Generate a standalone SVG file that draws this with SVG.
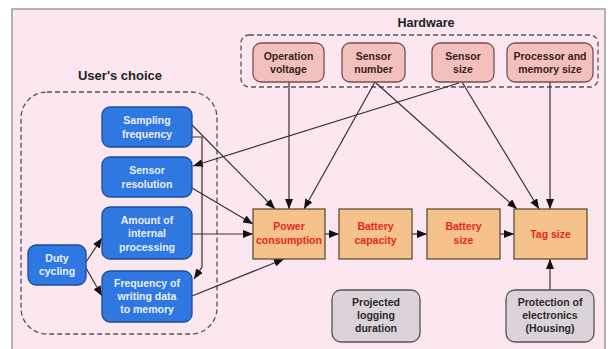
<svg xmlns="http://www.w3.org/2000/svg" width="613" height="349" viewBox="0 0 613 349">
<style>
  text { font-family: "Liberation Sans", Arial, sans-serif; font-weight: bold; text-anchor: middle; }
  .title { font-size: 12.5px; fill: #222; }
  .hw rect { fill: #f3c1bd; stroke: #7a4e4e; stroke-width: 1.3; }
  .hw text { font-size: 10.5px; fill: #3a2222; }
  .uc rect { fill: #2f78e2; stroke: #1b4c9e; stroke-width: 1.3; }
  .uc text { font-size: 10.5px; fill: #e8f0ff; }
  .or rect { fill: #f6c28b; stroke: #5e5138; stroke-width: 1.3; }
  .or text { font-size: 10.5px; fill: #e8261c; }
  .gr rect { fill: #dcd2da; stroke: #555; stroke-width: 1.3; }
  .gr text { font-size: 10.5px; fill: #2a2a2a; }
  .grp { fill: none; stroke: #555; stroke-width: 1.3; stroke-dasharray: 5 3; }
  #connectors path { fill: none; stroke: #333; stroke-width: 1.2; marker-end: url(#arr); }
</style>
<defs>
  <marker id="arr" markerUnits="userSpaceOnUse" markerWidth="10" markerHeight="8" refX="10" refY="4" orient="auto">
    <path d="M0,0 L10,4 L0,8 z" fill="#111"/>
  </marker>
</defs>
<rect x="0" y="0" width="613" height="349" fill="#ffffff"/>
<rect x="12" y="9" width="593" height="360" fill="#fce6ef" stroke="#9a9a9a" stroke-width="1.5"/>

<g id="group-hardware">
  <rect class="grp" x="241" y="35" width="357" height="52" rx="8"/>
  <text class="title" x="426" y="27">Hardware</text>
</g>
<g id="group-users-choice">
  <rect class="grp" x="21" y="92" width="196" height="242" rx="26"/>
  <text class="title" x="120" y="80" style="font-size:13px">User's choice</text>
</g>

<g id="connectors">
  <path d="M289,82 L289,209"/>
  <path d="M375,82 L304,209"/>
  <path d="M375,82 L517,209"/>
  <path d="M462,82 L539,209"/>
  <path d="M459,83 L193,166"/>
  <path d="M550,82 L550,209"/>
  <path d="M192,125 L275,209"/>
  <path d="M192,137 L202,137 L202,267 L194,279"/>
  <path d="M192,188 L253,224"/>
  <path d="M192,234 L253,234"/>
  <path d="M192,296 L284,259"/>
  <path d="M86,262 L102,238"/>
  <path d="M86,268 L102,296"/>
  <path d="M325,234 L339,234"/>
  <path d="M412,234 L427,234"/>
  <path d="M500,234 L514,234"/>
  <path d="M550,290 L550,259"/>
</g>

<g id="operation-voltage" class="hw">
  <rect x="253" y="43" width="71" height="39" rx="8"/>
  <text x="288.5" y="59.5">Operation</text>
  <text x="288.5" y="72.5">voltage</text>
</g>
<g id="sensor-number" class="hw">
  <rect x="342" y="43" width="63" height="39" rx="8"/>
  <text x="373.5" y="59.5">Sensor</text>
  <text x="373.5" y="72.5">number</text>
</g>
<g id="sensor-size" class="hw">
  <rect x="432" y="43" width="62" height="39" rx="8"/>
  <text x="463" y="59.5">Sensor</text>
  <text x="463" y="72.5">size</text>
</g>
<g id="processor-memory-size" class="hw">
  <rect x="507" y="43" width="86" height="39" rx="8"/>
  <text x="550" y="59.5">Processor and</text>
  <text x="550" y="72.5">memory size</text>
</g>

<g id="sampling-frequency" class="uc">
  <rect x="102" y="107" width="90" height="40" rx="8"/>
  <text x="147" y="124">Sampling</text>
  <text x="147" y="137.5">frequency</text>
</g>
<g id="sensor-resolution" class="uc">
  <rect x="102" y="157" width="90" height="40" rx="8"/>
  <text x="147" y="174">Sensor</text>
  <text x="147" y="187.5">resolution</text>
</g>
<g id="amount-internal-processing" class="uc">
  <rect x="102" y="207" width="90" height="52" rx="8"/>
  <text x="147" y="223.5">Amount of</text>
  <text x="147" y="237">internal</text>
  <text x="147" y="250.5">processing</text>
</g>
<g id="frequency-writing-data" class="uc">
  <rect x="102" y="271" width="90" height="51" rx="8"/>
  <text x="147" y="286.5">Frequency of</text>
  <text x="147" y="300">writing data</text>
  <text x="147" y="313">to memory</text>
</g>
<g id="duty-cycling" class="uc">
  <rect x="28" y="245" width="58" height="40" rx="8"/>
  <text x="57" y="261.5">Duty</text>
  <text x="57" y="275">cycling</text>
</g>

<g id="power-consumption" class="or">
  <rect x="253" y="209" width="72" height="50"/>
  <text x="289" y="230">Power</text>
  <text x="289" y="243.5">consumption</text>
</g>
<g id="battery-capacity" class="or">
  <rect x="339" y="209" width="73" height="50"/>
  <text x="375.5" y="230">Battery</text>
  <text x="375.5" y="243.5">capacity</text>
</g>
<g id="battery-size" class="or">
  <rect x="427" y="209" width="73" height="50"/>
  <text x="463.5" y="230">Battery</text>
  <text x="463.5" y="243.5">size</text>
</g>
<g id="tag-size" class="or">
  <rect x="514" y="209" width="73" height="50"/>
  <text x="550.5" y="237.5">Tag size</text>
</g>

<g id="projected-logging-duration" class="gr">
  <rect x="332" y="290" width="88" height="52" rx="9"/>
  <text x="376" y="305.5">Projected</text>
  <text x="376" y="318.5">logging</text>
  <text x="376" y="331.5">duration</text>
</g>
<g id="protection-electronics" class="gr">
  <rect x="506" y="290" width="88" height="52" rx="9"/>
  <text x="550" y="305.5">Protection of</text>
  <text x="550" y="318.5">electronics</text>
  <text x="550" y="331.5">(Housing)</text>
</g>
</svg>
